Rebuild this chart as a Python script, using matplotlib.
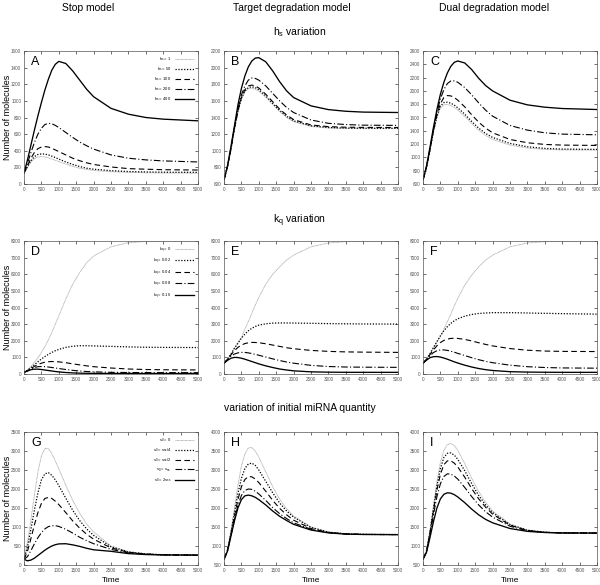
import matplotlib
matplotlib.use("Agg")
import matplotlib.pyplot as plt

plt.rcParams['font.family'] = ['Liberation Sans', 'DejaVu Sans']
plt.rcParams['mathtext.fontset'] = 'custom'
plt.rcParams['mathtext.rm'] = 'Liberation Sans'
plt.rcParams['mathtext.it'] = 'Liberation Sans'

T = [0, 100, 200, 300, 400, 500, 600, 700, 800, 900, 1000, 1200, 1400, 1600, 1800, 2000, 2500, 3000, 3500, 4000, 5000]

# row 1: h_s variation
hs_labels = [r'$h_s$ = 1', r'$h_s$ = 50', r'$h_s$ = 100', r'$h_s$ = 200', r'$h_s$ = 400']
A = [
    [130, 200, 265, 305, 325, 330, 325, 315, 300, 285, 270, 240, 212, 190, 175, 163, 148, 140, 135, 132, 130],
    [130, 210, 280, 330, 355, 362, 360, 350, 335, 318, 300, 265, 235, 210, 190, 178, 160, 150, 145, 142, 140],
    [130, 220, 310, 380, 425, 445, 450, 445, 430, 410, 390, 350, 310, 280, 255, 235, 205, 185, 178, 172, 168],
    [130, 250, 380, 500, 600, 670, 715, 730, 725, 705, 680, 620, 560, 505, 460, 420, 350, 310, 290, 278, 265],
    [130, 290, 470, 650, 820, 980, 1130, 1260, 1370, 1440, 1475, 1450, 1360, 1250, 1140, 1050, 910, 840, 800, 780, 760],
]
B = [
    [650, 800, 1015, 1260, 1470, 1620, 1705, 1745, 1750, 1740, 1715, 1640, 1555, 1470, 1400, 1350, 1292, 1273, 1267, 1265, 1265],
    [650, 800, 1020, 1265, 1475, 1630, 1720, 1760, 1770, 1758, 1735, 1660, 1570, 1485, 1415, 1360, 1300, 1280, 1273, 1271, 1270],
    [650, 805, 1025, 1270, 1480, 1640, 1735, 1780, 1790, 1780, 1755, 1680, 1590, 1500, 1430, 1375, 1310, 1290, 1283, 1281, 1280],
    [650, 810, 1030, 1280, 1500, 1670, 1780, 1850, 1875, 1870, 1850, 1780, 1690, 1600, 1520, 1460, 1370, 1330, 1315, 1308, 1305],
    [650, 820, 1050, 1300, 1550, 1750, 1900, 2010, 2080, 2115, 2120, 2070, 1960, 1830, 1720, 1640, 1540, 1495, 1475, 1465, 1460],
]
C = [
    [660, 840, 1100, 1380, 1600, 1740, 1790, 1795, 1780, 1750, 1710, 1615, 1510, 1410, 1330, 1270, 1185, 1140, 1120, 1112, 1110],
    [660, 845, 1110, 1390, 1620, 1770, 1825, 1830, 1815, 1785, 1745, 1650, 1540, 1440, 1360, 1300, 1210, 1160, 1135, 1125, 1120],
    [660, 850, 1115, 1400, 1640, 1810, 1900, 1930, 1925, 1900, 1860, 1760, 1640, 1530, 1440, 1370, 1270, 1220, 1195, 1185, 1180],
    [660, 860, 1130, 1420, 1680, 1880, 2020, 2110, 2150, 2150, 2130, 2050, 1940, 1820, 1710, 1620, 1480, 1410, 1370, 1350, 1340],
    [660, 870, 1150, 1450, 1720, 1950, 2130, 2270, 2370, 2430, 2450, 2420, 2320, 2190, 2080, 2000, 1860, 1790, 1755, 1735, 1720],
]

# row 2: k_q variation
kq_labels = [r'$k_q$ = 0', r'$k_q$ = 0.02', r'$k_q$ = 0.04', r'$k_q$ = 0.08', r'$k_q$ = 0.16']
D = [
    [100, 250, 450, 700, 980, 1300, 1650, 2050, 2500, 3000, 3500, 4500, 5400, 6100, 6700, 7100, 7650, 7900, 7970, 7990, 8000],
    [100, 220, 380, 560, 740, 900, 1050, 1180, 1300, 1400, 1480, 1600, 1670, 1700, 1700, 1690, 1660, 1630, 1610, 1600, 1590],
    [100, 200, 330, 460, 570, 650, 710, 740, 750, 745, 730, 680, 610, 550, 490, 440, 360, 300, 270, 255, 245],
    [100, 190, 300, 390, 440, 450, 440, 420, 390, 360, 330, 270, 220, 180, 150, 130, 100, 90, 85, 82, 80],
    [100, 180, 260, 290, 290, 270, 240, 210, 180, 150, 125, 90, 65, 50, 42, 38, 33, 31, 30, 30, 30],
]
E = [
    [650, 900, 1200, 1550, 1900, 2200, 2700, 3150, 3650, 4150, 4600, 5400, 6000, 6450, 6850, 7150, 7650, 7880, 7960, 7990, 8000],
    [650, 900, 1200, 1550, 1850, 2150, 2400, 2600, 2750, 2860, 2940, 3020, 3060, 3070, 3070, 3065, 3050, 3030, 3020, 3010, 3000],
    [650, 880, 1150, 1400, 1600, 1740, 1830, 1880, 1900, 1895, 1880, 1820, 1740, 1660, 1580, 1520, 1420, 1360, 1330, 1315, 1300],
    [650, 860, 1070, 1200, 1270, 1300, 1295, 1270, 1230, 1180, 1130, 1020, 910, 810, 720, 650, 520, 450, 420, 410, 400],
    [650, 820, 950, 1000, 990, 950, 890, 820, 750, 680, 610, 490, 390, 300, 240, 190, 130, 110, 102, 100, 100],
]
F = [
    [650, 900, 1200, 1550, 1900, 2250, 2700, 3150, 3600, 4100, 4550, 5350, 5950, 6450, 6850, 7150, 7650, 7880, 7960, 7990, 8000],
    [650, 900, 1220, 1600, 1950, 2300, 2600, 2850, 3050, 3200, 3320, 3480, 3580, 3640, 3670, 3690, 3690, 3670, 3650, 3630, 3600],
    [650, 880, 1170, 1450, 1700, 1890, 2020, 2100, 2140, 2150, 2140, 2080, 1990, 1880, 1780, 1690, 1530, 1430, 1380, 1360, 1350],
    [650, 860, 1100, 1290, 1400, 1450, 1450, 1420, 1370, 1310, 1240, 1110, 980, 860, 760, 680, 530, 440, 390, 365, 350],
    [650, 830, 980, 1040, 1050, 1020, 960, 890, 810, 730, 660, 530, 420, 330, 260, 210, 140, 115, 105, 100, 100],
]

# row 3: initial miRNA quantity
s0_labels = [r'$s_0$ = 0', r'$s_0$ = $s_{ss}$/4', r'$s_0$ = $s_{ss}$/2', r'$s_0$ = $s_{ss}$', r'$s_0$ = 2$s_{ss}$']
G = [
    [150, 600, 1200, 1850, 2450, 2870, 3070, 3060, 2930, 2740, 2530, 2100, 1700, 1360, 1080, 870, 500, 350, 295, 272, 260],
    [150, 480, 950, 1450, 1900, 2240, 2400, 2430, 2360, 2240, 2090, 1760, 1440, 1170, 950, 780, 480, 345, 292, 270, 260],
    [150, 360, 700, 1060, 1380, 1620, 1750, 1780, 1750, 1680, 1590, 1380, 1160, 970, 810, 680, 450, 335, 288, 268, 260],
    [150, 220, 380, 560, 720, 850, 950, 1010, 1035, 1035, 1015, 940, 840, 730, 640, 560, 410, 320, 284, 266, 260],
    [150, 110, 130, 180, 250, 320, 390, 450, 500, 535, 555, 560, 530, 490, 440, 400, 360, 300, 275, 264, 260],
]
H = [
    [650, 900, 1400, 2000, 2600, 3100, 3420, 3580, 3590, 3500, 3340, 2950, 2560, 2230, 1980, 1790, 1500, 1370, 1320, 1305, 1300],
    [650, 890, 1350, 1870, 2380, 2780, 3040, 3160, 3180, 3120, 3000, 2700, 2400, 2130, 1920, 1760, 1490, 1365, 1320, 1305, 1300],
    [650, 880, 1310, 1780, 2220, 2560, 2750, 2830, 2820, 2760, 2670, 2440, 2200, 1990, 1820, 1680, 1460, 1355, 1318, 1305, 1300],
    [650, 870, 1280, 1700, 2070, 2330, 2460, 2500, 2490, 2440, 2370, 2200, 2010, 1850, 1720, 1610, 1440, 1350, 1315, 1305, 1300],
    [650, 860, 1260, 1660, 2000, 2220, 2320, 2340, 2320, 2280, 2220, 2080, 1920, 1780, 1670, 1570, 1420, 1345, 1313, 1303, 1300],
]
I = [
    [650, 880, 1400, 2050, 2700, 3200, 3520, 3670, 3700, 3640, 3520, 3170, 2780, 2430, 2150, 1920, 1580, 1420, 1365, 1345, 1340],
    [650, 870, 1370, 1980, 2580, 3040, 3330, 3440, 3450, 3390, 3280, 2980, 2640, 2330, 2080, 1880, 1560, 1415, 1362, 1345, 1340],
    [650, 860, 1340, 1920, 2470, 2890, 3140, 3240, 3240, 3180, 3080, 2810, 2510, 2240, 2020, 1840, 1545, 1410, 1360, 1344, 1340],
    [650, 850, 1300, 1820, 2300, 2640, 2830, 2900, 2890, 2840, 2760, 2540, 2300, 2080, 1900, 1760, 1520, 1400, 1358, 1344, 1340],
    [650, 830, 1220, 1640, 2000, 2240, 2360, 2400, 2390, 2350, 2290, 2140, 1970, 1820, 1700, 1610, 1460, 1385, 1355, 1343, 1340],
]

styles = [
    dict(color='#a0a0a0', ls=(0, (1, 0.6)), lw=0.6),
    dict(color='black', ls=(0, (1, 1.3)), lw=0.9),
    dict(color='black', ls=(0, (5, 3)), lw=0.8),
    dict(color='black', ls=(0, (6, 2, 1, 2)), lw=0.8),
    dict(color='black', ls='-', lw=0.95),
]

panels = [
    ('A', A, 0, 1600, 200, hs_labels),
    ('B', B, 600, 2200, 200, None),
    ('C', C, 600, 2600, 200, None),
    ('D', D, 0, 8000, 1000, kq_labels),
    ('E', E, 0, 8000, 1000, None),
    ('F', F, 0, 8000, 1000, None),
    ('G', G, 0, 3500, 500, s0_labels),
    ('H', H, 500, 4000, 500, None),
    ('I', I, 500, 4000, 500, None),
]

fig = plt.figure(figsize=(6.0, 5.85), dpi=100)
W, Hf = 600, 585
lefts = [24, 224, 423]
tops = [51, 241, 432]
aw, ah = 174, 133

for k, (letter, data, y0, y1, ystep, labels) in enumerate(panels):
    r, c = divmod(k, 3)
    ax = fig.add_axes([lefts[c] / W, 1 - (tops[r] + ah) / Hf, aw / W, ah / Hf])
    for i, series in enumerate(data):
        lab = labels[i] if labels else None
        ax.plot(T, series, label=lab, **styles[i])
    ax.set_xlim(0, 5000)
    ax.set_ylim(y0, y1)
    ax.set_xticks(range(0, 5001, 500))
    ax.set_yticks(range(y0, y1 + 1, ystep))
    ax.tick_params(direction='in', length=2, width=0.4, labelsize=3.3,
                   labelcolor='#555555', top=True, right=True, pad=2)
    for sp in ax.spines.values():
        sp.set_linewidth(0.5)
        sp.set_color('#555555')
    ax.text(0.04, 0.96, letter, transform=ax.transAxes, fontsize=9,
            va='top', ha='left')
    if labels:
        ax.legend(loc='upper right', fontsize=3, frameon=False, markerfirst=False,
                  handlelength=4.5, labelspacing=0.6, borderaxespad=0.6)
    if c == 0:
        fig.text(8 / W, 1 - (tops[r] + ah / 2) / Hf, 'Number of molecules',
                 rotation=90, ha='center', va='center', fontsize=6.5)
    if r == 2:
        ax.set_xlabel('Time', fontsize=6, labelpad=3)

fig.text(88 / W, 1 - 8 / Hf, 'Stop model', ha='center', va='center', fontsize=7.5)
fig.text(292 / W, 1 - 8 / Hf, 'Target degradation model', ha='center', va='center', fontsize=7.5)
fig.text(494 / W, 1 - 8 / Hf, 'Dual degradation model', ha='center', va='center', fontsize=7.5)
fig.text(300 / W, 1 - 32 / Hf, r'h$_\mathregular{s}$ variation', ha='center', va='center', fontsize=7.5)
fig.text(300 / W, 1 - 221 / Hf, r'k$_\mathregular{q}$ variation', ha='center', va='center', fontsize=7.5)
fig.text(300 / W, 1 - 408 / Hf, 'variation of initial miRNA quantity', ha='center', va='center', fontsize=7.5)

fig.savefig('out.png', dpi=100)
